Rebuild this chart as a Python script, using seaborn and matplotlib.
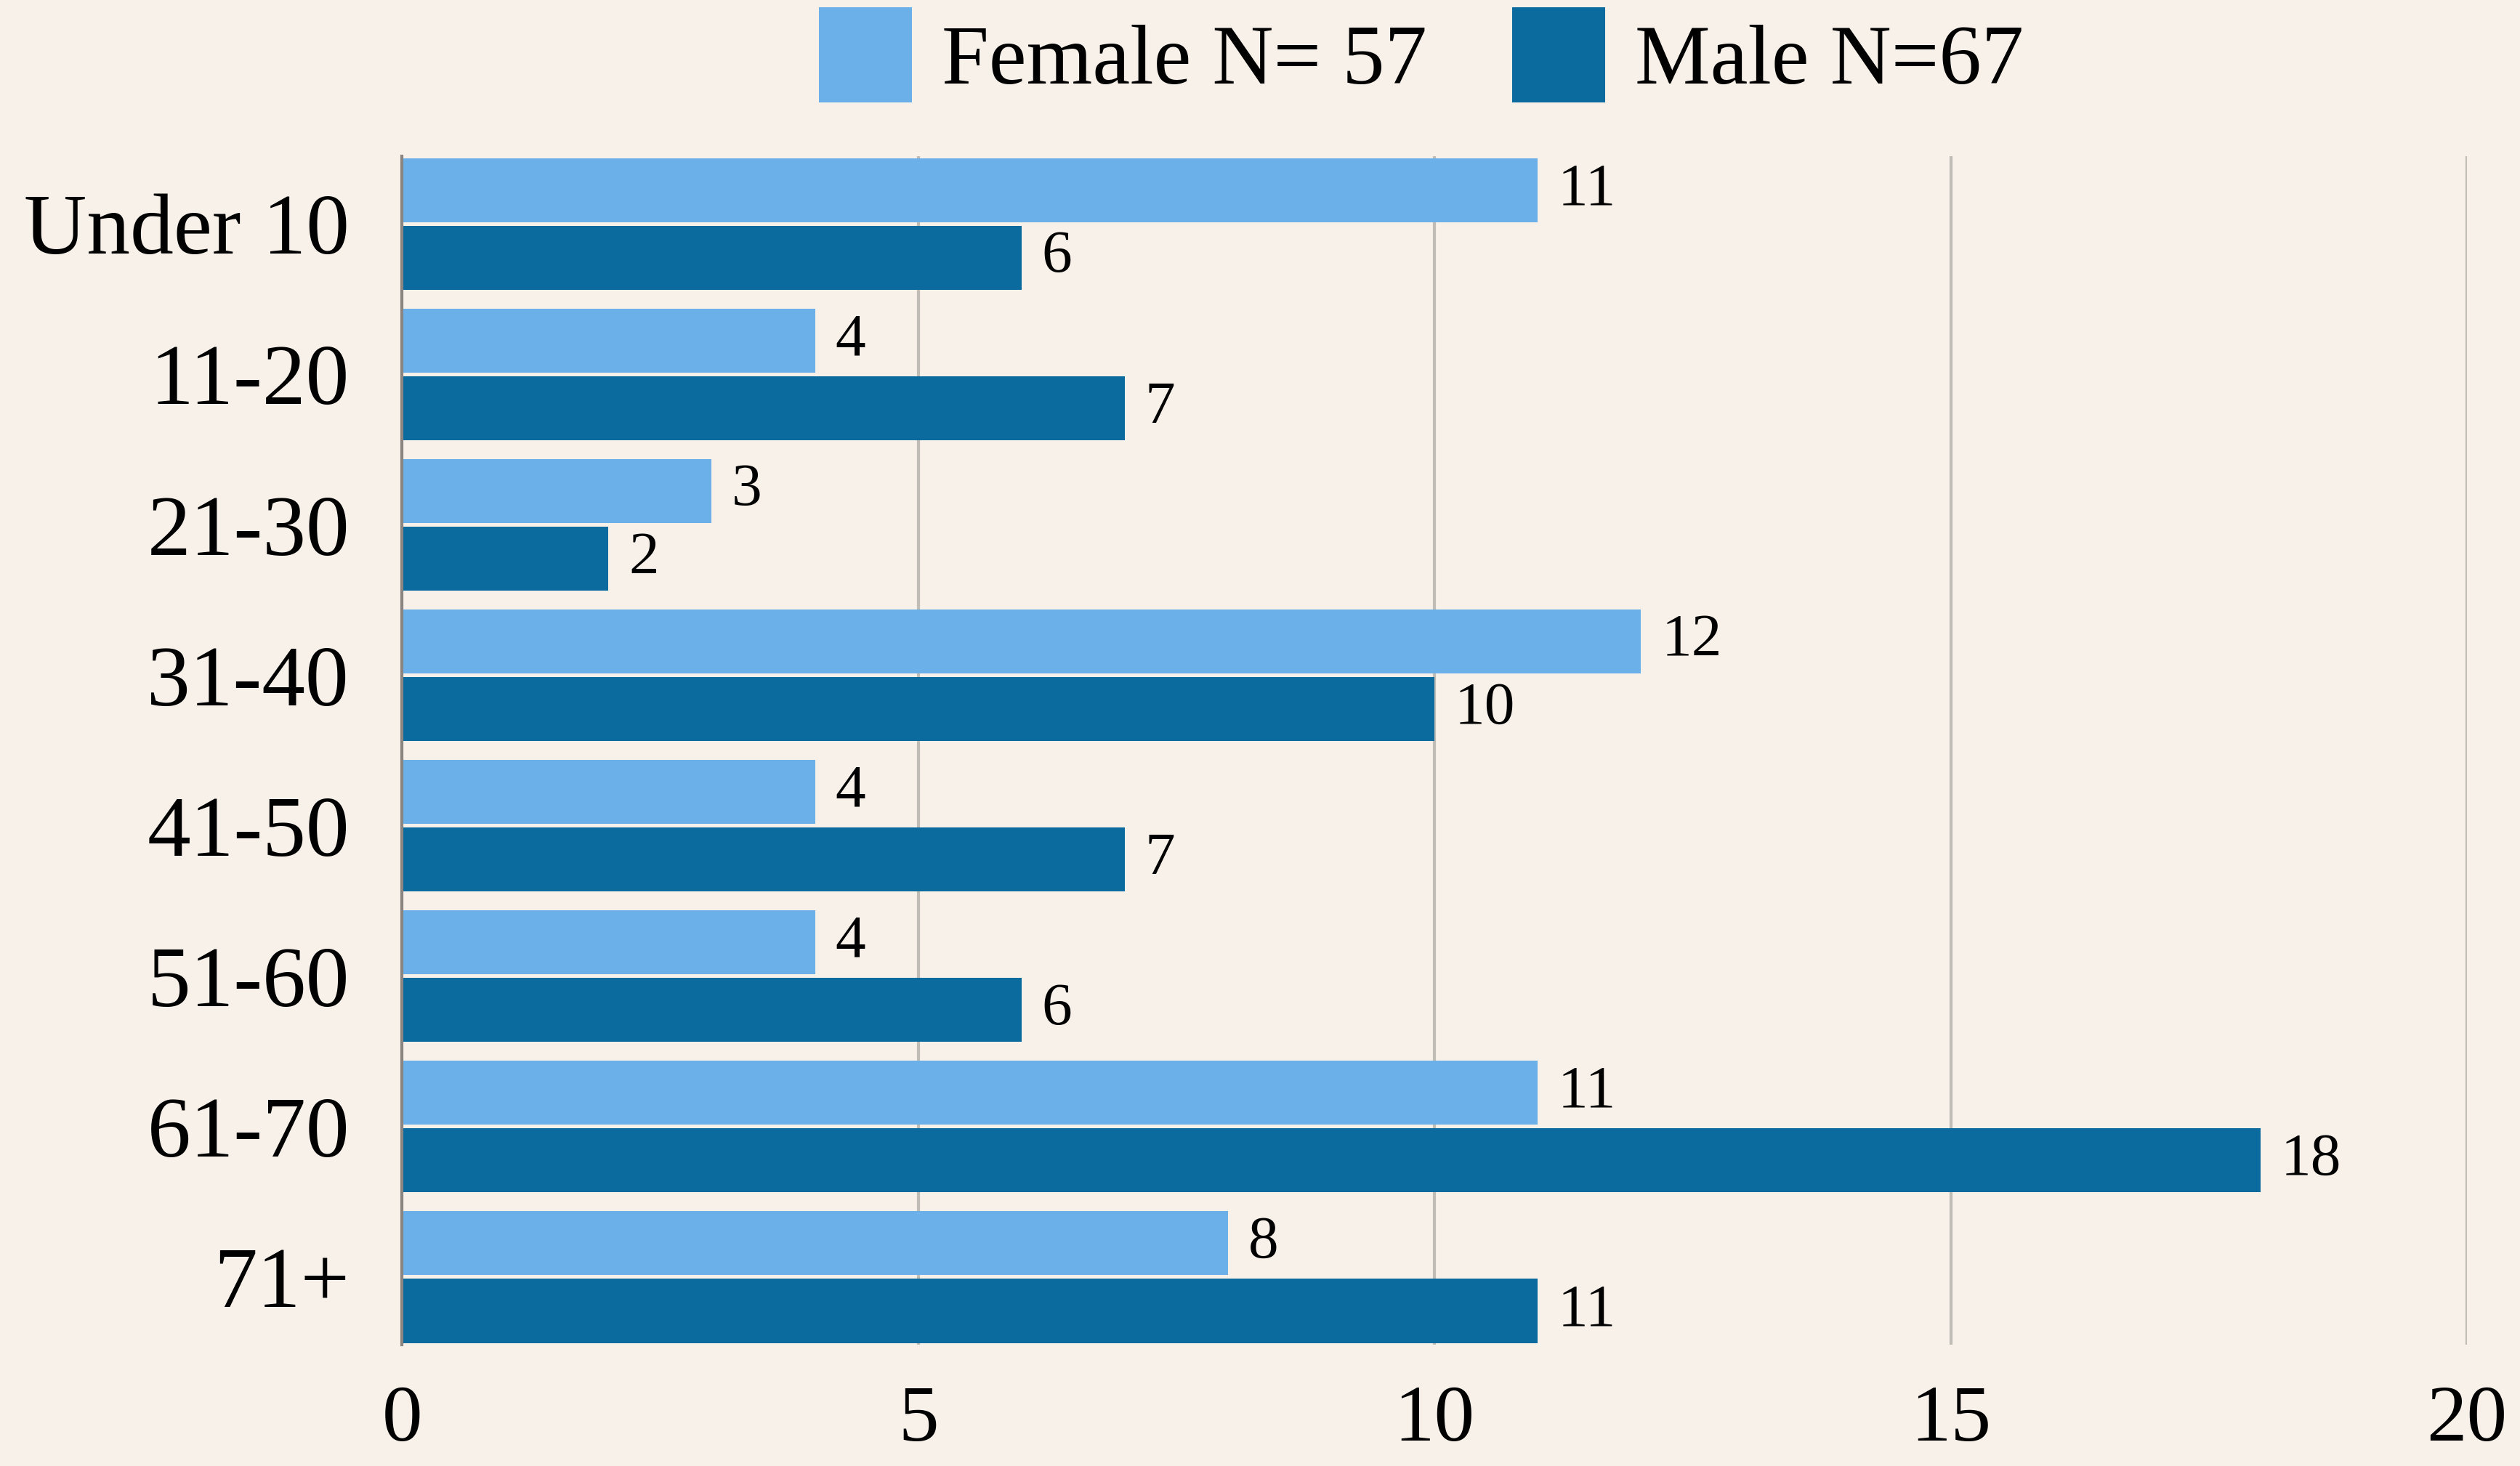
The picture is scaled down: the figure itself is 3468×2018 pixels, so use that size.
import matplotlib
matplotlib.use("Agg")
import matplotlib.pyplot as plt
import seaborn as sns
import pandas as pd
from matplotlib.patches import Patch

# ---- data ----
age_groups = ["Under 10", "11-20", "21-30", "31-40", "41-50", "51-60", "61-70", "71+"]
female_counts = [11, 4, 3, 12, 4, 4, 11, 8]
male_counts = [6, 7, 2, 10, 7, 6, 18, 11]
series_labels = ["Female N= 57", "Male N=67"]
x_ticks = [0, 5, 10, 15, 20]

BG = "#F8F1EA"
COLORS = ["#6BB0E8", "#0B6B9E"]

df = pd.DataFrame({
    "age": age_groups * 2,
    "count": female_counts + male_counts,
    "sex": [series_labels[0]] * len(age_groups) + [series_labels[1]] * len(age_groups),
})

sns.set_theme(style="white")
plt.rcParams["font.family"] = ["Liberation Serif", "DejaVu Serif"]
plt.rcParams["text.color"] = "black"
plt.rcParams["xtick.color"] = "black"
plt.rcParams["ytick.color"] = "black"

fig = plt.figure(figsize=(17.34, 10.09), dpi=200, facecolor=BG)
ax = fig.add_axes([0.1595, 0.0827, 0.979 - 0.1595, 0.8935 - 0.0827])
ax.set_facecolor(BG)

sns.barplot(data=df, y="age", x="count", hue="sex", order=age_groups,
            hue_order=series_labels, palette=COLORS, orient="h",
            width=0.9, ax=ax, saturation=1, legend=False)

# small gap between paired bars
for p in ax.patches:
    h = p.get_height()
    shrink = 0.025
    p.set_y(p.get_y() + shrink / 2)
    p.set_height(h - shrink)
    p.set_linewidth(0)

for cont in ax.containers:
    ax.bar_label(cont, padding=10, fontsize=30, color="black")

ax.set_xlim(0, 20)
ax.set_ylim(len(age_groups) - 0.55, -0.45)
ax.set_xticks(x_ticks)
ax.set_xticklabels([str(t) for t in x_ticks], fontsize=40, color="black")
ax.tick_params(axis="x", length=0, pad=20, labelcolor="black")
ax.tick_params(axis="y", length=0, pad=26, labelsize=43, labelcolor="black")
ax.set_xlabel("")
ax.set_ylabel("")

ax.grid(axis="x", color="#C0BCB6", linewidth=1.5)
ax.set_axisbelow(True)
for s in ["top", "right", "bottom"]:
    ax.spines[s].set_visible(False)
ax.spines["left"].set_color("#8A8580")
ax.spines["left"].set_linewidth(1.5)

handles = [Patch(facecolor=c, edgecolor="none") for c in COLORS]
leg = fig.legend(handles, series_labels, loc="upper center", bbox_to_anchor=(0.564, 0.995),
                 ncol=2, frameon=False, fontsize=42, handlelength=1.1, handleheight=1.35,
                 handletextpad=0.35, columnspacing=1.0, borderaxespad=0, borderpad=0)
for t in leg.get_texts():
    t.set_color("black")

fig.savefig("out.png", dpi=200, facecolor=BG)
